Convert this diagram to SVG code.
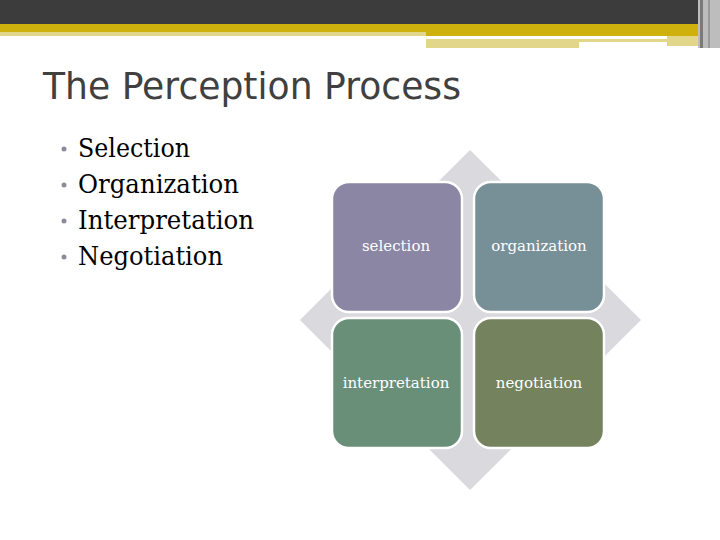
<svg xmlns="http://www.w3.org/2000/svg" width="720" height="540" viewBox="0 0 720 540">
<style>
.title{font-family:"DejaVu Sans","Open Sans",sans-serif;font-size:38px;fill:#404040}
.bul{font-family:"DejaVu Serif","Liberation Serif",serif;font-size:26px;fill:#000}
.dot{fill:#8c8c99}
.box{stroke:#fff;stroke-width:2.5}
.lbl{font-family:"DejaVu Serif","Liberation Serif",serif;font-size:15px;fill:#fff;text-anchor:middle}
</style>
<rect width="720" height="540" fill="#fff"/>
<g id="header">
<rect x="0" y="0" width="720" height="24" fill="#3c3c3c"/>
<rect x="0" y="24" width="426" height="8" fill="#cfb10e"/>
<rect x="0" y="32" width="426" height="4" fill="#e2d68a"/>
<rect x="426" y="24" width="294" height="12" fill="#cfb10e"/>
<rect x="426" y="39" width="241" height="3" fill="#e2d68a"/>
<rect x="426" y="42" width="153" height="6" fill="#e2d68a"/>
<rect x="667" y="36" width="31" height="10" fill="#e2d68a"/>
<rect x="698" y="0" width="22" height="48" fill="#bdbdbd"/>
<rect x="700" y="0" width="3" height="48" fill="#7a7a7a"/>
<rect x="708" y="0" width="2" height="48" fill="#9a9a9a"/>
</g>
<text class="title" x="43" y="99" textLength="418" lengthAdjust="spacingAndGlyphs">The Perception Process</text>
<g id="bullets">
<circle class="dot" cx="64" cy="149" r="2.5"/>
<circle class="dot" cx="64" cy="185" r="2.5"/>
<circle class="dot" cx="64" cy="221" r="2.5"/>
<circle class="dot" cx="64" cy="257" r="2.5"/>
<text class="bul" x="78" y="157" textLength="112" lengthAdjust="spacingAndGlyphs">Selection</text>
<text class="bul" x="78" y="193" textLength="161" lengthAdjust="spacingAndGlyphs">Organization</text>
<text class="bul" x="78" y="229" textLength="176" lengthAdjust="spacingAndGlyphs">Interpretation</text>
<text class="bul" x="78" y="265" textLength="145" lengthAdjust="spacingAndGlyphs">Negotiation</text>
</g>
<g id="diamond">
<polygon points="470,150 641,320 470,490 300,320" fill="#d9d9de"/>
</g>
<g id="connectors"></g>
<g id="node-selection">
<rect class="box" x="332" y="182" width="130" height="130" rx="17" fill="#8a86a3"/>
<text class="lbl" x="396" y="251">selection</text>
</g>
<g id="node-organization">
<rect class="box" x="474" y="182" width="130" height="130" rx="17" fill="#778f96"/>
<text class="lbl" x="539" y="251">organization</text>
</g>
<g id="node-interpretation">
<rect class="box" x="332" y="318" width="130" height="130" rx="17" fill="#6a8f79"/>
<text class="lbl" x="396" y="388">interpretation</text>
</g>
<g id="node-negotiation">
<rect class="box" x="474" y="318" width="130" height="130" rx="17" fill="#74825e"/>
<text class="lbl" x="539" y="388">negotiation</text>
</g>
</svg>
